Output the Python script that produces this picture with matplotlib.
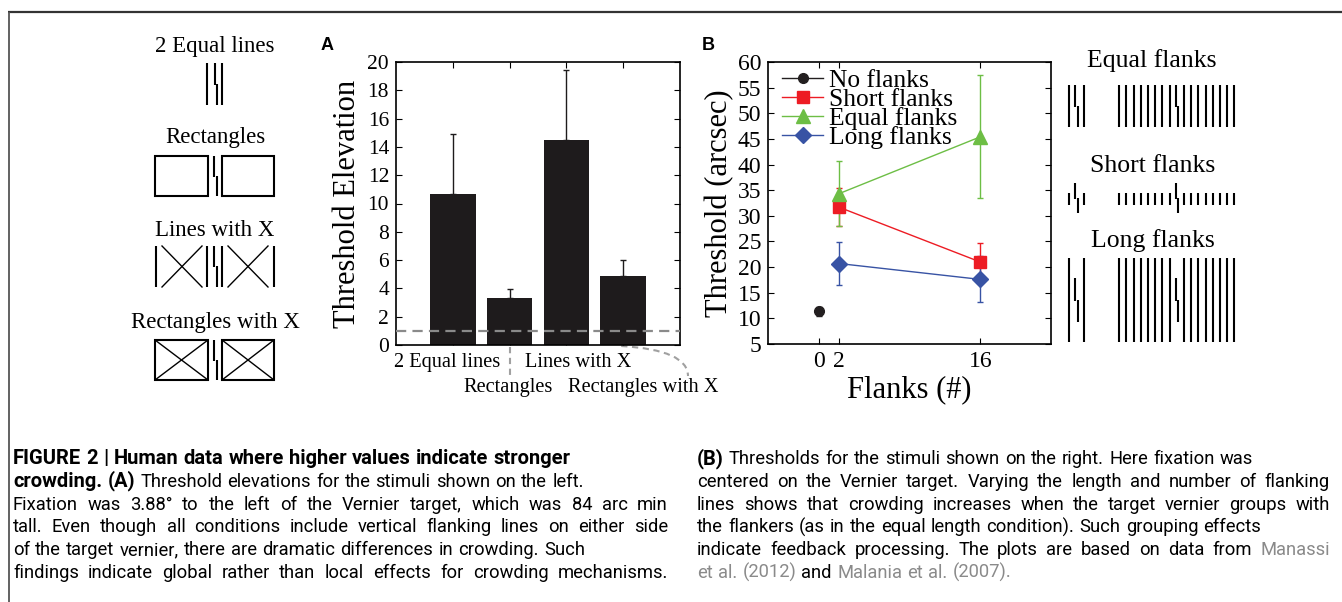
import matplotlib
matplotlib.use("Agg")
import matplotlib.pyplot as plt
from matplotlib.patches import Rectangle, PathPatch
from matplotlib.path import Path
import numpy as np

# ---- data -------------------------------------------------------------
# panel A: threshold elevation per flanker configuration
a_labels = ["2 Equal lines", "Rectangles", "Lines with X", "Rectangles with X"]
a_values = [10.7, 3.35, 14.5, 4.85]
a_err_up = [4.2, 0.6, 4.9, 1.15]
a_reference = 1.0

# panel B: thresholds (arcsec) vs number of flanks
b_series = ["No flanks", "Short flanks", "Equal flanks", "Long flanks"]
b_x = {"No flanks": [0], "Short flanks": [2, 16], "Equal flanks": [2, 16], "Long flanks": [2, 16]}
b_y = {"No flanks": [11.4], "Short flanks": [31.7, 21.0], "Equal flanks": [34.3, 45.4], "Long flanks": [20.7, 17.6]}
b_err = {"No flanks": [0.9], "Short flanks": [3.7, 3.7], "Equal flanks": [6.3, 12.0], "Long flanks": [4.2, 4.5]}
b_xticks = [0, 2, 16]

GRAY = "#8a8a8a"
# (text runs, justified?)
caption_left = [
    ([("FIGURE 2 | Human data where higher values indicate stronger", "bold", "k")], False),
    ([("crowding. (A)", "bold", "k"), (" Threshold elevations for the stimuli shown on the left.", "normal", "k")], False),
    ([("Fixation was 3.88\u00b0 to the left of the Vernier target, which was 84 arc min", "normal", "k")], True),
    ([("tall. Even though all conditions include vertical flanking lines on either side", "normal", "k")], True),
    ([("of the target vernier, there are dramatic differences in crowding. Such", "normal", "k")], False),
    ([("findings indicate global rather than local effects for crowding mechanisms.", "normal", "k")], True),
]
caption_right = [
    ([("(B)", "bold", "k"), (" Thresholds for the stimuli shown on the right. Here fixation was", "normal", "k")], False),
    ([("centered on the Vernier target. Varying the length and number of flanking", "normal", "k")], True),
    ([("lines shows that crowding increases when the target vernier groups with", "normal", "k")], True),
    ([("the flankers (as in the equal length condition). Such grouping effects", "normal", "k")], False),
    ([("indicate feedback processing. The plots are based on data from ", "normal", "k"), ("Manassi", "normal", GRAY)], True),
    ([("et al. (2012)", "normal", GRAY), (" and ", "normal", "k"), ("Malania et al. (2007).", "normal", GRAY)], False),
]

COLORS = {"No flanks": "#231f20", "Short flanks": "#ed1c24",
          "Equal flanks": "#6dbe45", "Long flanks": "#3853a4"}
MARKERS = {"No flanks": ("o", 7), "Short flanks": ("s", 8.5),
           "Equal flanks": ("^", 10.5), "Long flanks": ("D", 8.5)}

plt.rcParams["font.family"] = ["Liberation Serif", "DejaVu Serif"]

W, H = 1342, 602
fig = plt.figure(figsize=(W / 100, H / 100), dpi=100)

# background axes in pixel units for frame, stimuli and caption
bg = fig.add_axes([0, 0, 1, 1])
bg.set_xlim(0, W)
bg.set_ylim(H, 0)
bg.axis("off")

bg.plot([8, W], [12, 12], color="#333333", lw=1.6, solid_capstyle="butt")
bg.plot([8.5, 8.5], [12, H], color="#555555", lw=1.3, solid_capstyle="butt")

LW = 1.5


def vline(x, y0, y1):
    bg.plot([x, x], [y0, y1], color="k", lw=LW, solid_capstyle="butt")


def vernier(xc, y0, y1):
    ym = (y0 + y1) / 2
    vline(xc - 1.2, y0, ym + 0.5)
    vline(xc + 1.2, ym - 0.5, y1)


def cross(x0, x1, y0, y1):
    bg.plot([x0, x1], [y0, y1], color="k", lw=1.0)
    bg.plot([x0, x1], [y1, y0], color="k", lw=1.0)


def box(x0, x1, y0, y1, with_x=False):
    bg.add_patch(Rectangle((x0, y0), x1 - x0, y1 - y0, fill=False, ec="k", lw=LW))
    if with_x:
        cross(x0, x1, y0, y1)


# left stimuli
stim_font = dict(ha="center", va="baseline", size=16.5)
bg.text(215, 52, "2 Equal lines", **stim_font)
vline(207.3, 63, 105)
vernier(215.7, 63, 105)
vline(222, 63, 105)

bg.text(215, 143, "Rectangles", **stim_font)
box(155, 208, 156, 196)
vernier(215.5, 156, 196)
box(222, 274, 156, 196)

bg.text(215, 236.5, "Lines with X", **stim_font)
for xx in (156, 207, 222, 274):
    vline(xx, 246, 287)
cross(162, 202, 246, 287)
cross(228, 268, 246, 287)
vernier(215.5, 246, 287)

bg.text(215, 328, "Rectangles with X", **stim_font)
box(155, 208, 340, 380, with_x=True)
vernier(215.5, 340, 380)
box(222, 274, 340, 380, with_x=True)

# right stimuli
flank_font = dict(ha="center", va="baseline", size=18.5)
sp = 7.2


def flank_group(xc, n, vy0, vy1, fy0, fy1):
    vernier(xc, vy0, vy1)
    for k in range(1, n + 1):
        vline(xc - k * sp, fy0, fy1)
        vline(xc + k * sp, fy0, fy1)


bg.text(1152, 67, "Equal flanks", **flank_font)
flank_group(1076.3, 1, 85, 127, 85, 127)
flank_group(1176.7, 8, 85, 127, 85, 127)

bg.text(1153, 172, "Short flanks", **flank_font)
flank_group(1076.3, 1, 183, 213, 193, 205)
flank_group(1176.7, 8, 183, 213, 193, 205)

bg.text(1153, 247, "Long flanks", **flank_font)
flank_group(1076.3, 1, 278, 322, 258, 342)
flank_group(1176.7, 8, 278, 322, 258, 342)

# panel letters
bg.text(327, 45, "A", family="Liberation Sans", weight="bold", size=13, ha="center", va="center")
bg.text(708, 45, "B", family="Liberation Sans", weight="bold", size=13, ha="center", va="center")

# ---- panel A ----------------------------------------------------------
axA = fig.add_axes([396 / W, 1 - 345 / H, 284 / W, 283 / H])
xa = np.arange(1, len(a_values) + 1)
axA.bar(xa, a_values, width=0.8, color="#1e1b1c", zorder=2)
axA.errorbar(xa, a_values, yerr=[np.zeros(len(a_values)), a_err_up], fmt="none",
             ecolor="#1e1b1c", elinewidth=1, capsize=2, capthick=1, zorder=3)
axA.axhline(a_reference, color=GRAY, lw=1.6, dashes=(4.6, 2.8), zorder=4)
axA.set_xlim(0, 5)
axA.set_ylim(0, 20)
axA.set_yticks(range(0, 21, 2))
axA.set_xticks(xa)
axA.set_xticklabels([])
axA.tick_params(direction="in", top=True, right=True, length=4, width=0.8, labelsize=15.5, pad=5)
axA.set_ylabel("Threshold Elevation", fontsize=22, labelpad=4)
for s in axA.spines.values():
    s.set_linewidth(1.2)

# category labels below panel A (two staggered rows, leader lines)
label_dx = [-6, -1, 11.5, 20.5]
label_base = [367, 392, 367, 392]
bar_px = [axA.transData.transform((xi, 0))[0] for xi in xa]
for lab, bx, dx, yb in zip(a_labels, bar_px, label_dx, label_base):
    bg.text(bx + dx, yb, lab, ha="center", va="baseline", size=14.7)

lead = dict(color="#a0a0a0", lw=1.5, dashes=(3, 2.2))
bg.plot([bar_px[1], bar_px[1]], [347, 378], **lead)
curve = Path([(bar_px[3] - 2, 346), (688, 350), (688, 376)],
             [Path.MOVETO, Path.CURVE3, Path.CURVE3])
bg.add_patch(PathPatch(curve, fill=False, ec="#a0a0a0", lw=1.5, ls=(0, (3, 2.2))))

# ---- panel B ----------------------------------------------------------
axB = fig.add_axes([768 / W, 1 - 344 / H, 283 / W, 282 / H])
for name in b_series:
    c = COLORS[name]
    m, ms = MARKERS[name]
    axB.errorbar(b_x[name], b_y[name], yerr=b_err[name], fmt="none", ecolor=c,
                 elinewidth=1, capsize=2, capthick=1, zorder=2)
    axB.plot(b_x[name], b_y[name], color=c, lw=1, marker=m, ms=ms, mfc=c, mec=c,
             label=name, zorder=3)
axB.set_xlim(-5, 23)
axB.set_ylim(5, 60)
axB.set_yticks(range(5, 61, 5))
axB.set_xticks(b_xticks)
axB.tick_params(direction="in", top=True, right=True, length=4, width=0.8, labelsize=17, pad=5)
axB.set_ylabel("Threshold (arcsec)", fontsize=22, labelpad=2)
axB.set_xlabel("Flanks (#)", fontsize=22, labelpad=2)
for s in axB.spines.values():
    s.set_linewidth(1.2)
axB.legend(loc="upper left", bbox_to_anchor=(0.05, 0.975), frameon=False, fontsize=18.4,
           borderpad=0, borderaxespad=0, handlelength=1.6, handletextpad=0.25,
           labelspacing=-0.15, numpoints=1)

# ---- caption ------------------------------------------------------------
renderer = fig.canvas.get_renderer()
CAP_FONT = ["Roboto", "DejaVu Sans"]
CAP_SIZE = {"normal": 13.2, "bold": 14.5}


def cap_text(x, y, s, weight, color):
    return bg.text(x, y, s, family=CAP_FONT, size=CAP_SIZE[weight], weight=weight,
                   color=color, ha="left", va="baseline")


def width_of(s, weight):
    t = cap_text(0, 0, s, weight, "k")
    w = t.get_window_extent(renderer).width
    t.remove()
    return w


def draw_line(x0, x1, y, runs, justify):
    tokens = []
    space = False
    for s, weight, color in runs:
        for j, p in enumerate(s.split(" ")):
            if j > 0:
                space = True
            if p:
                tokens.append((p, weight, color, space and bool(tokens)))
                space = False
    widths = [width_of(p, w) for p, w, _, _ in tokens]
    n_gaps = sum(1 for t in tokens if t[3])
    gap = (width_of("a a", "normal") - width_of("aa", "normal")) * 1.15
    if justify and n_gaps:
        gap = (x1 - x0 - sum(widths)) / n_gaps
    x = x0
    for (p, weight, color, sp_before), w in zip(tokens, widths):
        if sp_before:
            x += gap
        cap_text(x, y, p, weight, color)
        x += w


for i, (runs, just) in enumerate(caption_left):
    draw_line(13, 668, 464 + 22.8 * i, runs, just)
for i, (runs, just) in enumerate(caption_right):
    draw_line(697, 1330, 464 + 22.8 * i, runs, just)

fig.savefig("out.png", dpi=100)
